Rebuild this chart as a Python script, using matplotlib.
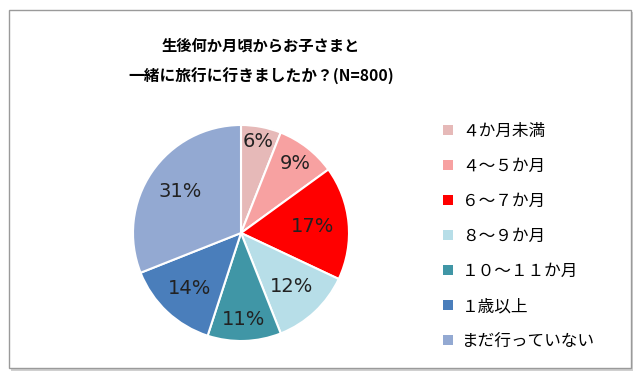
import matplotlib
matplotlib.use("Agg")
import matplotlib.pyplot as plt
from matplotlib.patches import Patch, Rectangle
import numpy as np

plt.rcParams['font.family'] = ['Noto Sans CJK JP', 'DejaVu Sans']

categories = ["４か月未満", "４～５か月", "６～７か月", "８～９か月", "１０～１１か月", "１歳以上", "まだ行っていない"]
values = [6, 9, 17, 12, 11, 14, 31]
colors = ["#E6B9B8", "#F7A1A1", "#FF0000", "#B7DEE8", "#4096A6", "#4A7EBB", "#93A9D2"]
label_dist = [0.86, 0.82, 0.67, 0.68, 0.8, 0.7, 0.68]

W, H = 640, 378
fig = plt.figure(figsize=(W/100, H/100), dpi=100)
fig.patch.set_facecolor("white")

# frame with shadow
shadow = Rectangle((11/W, 1 - 371/H), 622/W, 359/H, transform=fig.transFigure,
                   facecolor="#d0d0d0", edgecolor="none", zorder=-3)
frame = Rectangle((9/W, 1 - 368/H), 622/W, 358/H, transform=fig.transFigure,
                  facecolor="white", edgecolor="#9a9a9a", linewidth=1.0, zorder=-2)
fig.patches.extend([shadow, frame])

cx, cy, r = 241, 233, 108
ax = fig.add_axes([(cx - r)/W, (H - cy - r)/H, 2*r/W, 2*r/H])
ax.set_zorder(2)
ax.patch.set_alpha(0)
wedges, _ = ax.pie(values, colors=colors, startangle=90, counterclock=False,
                   wedgeprops=dict(edgecolor="white", linewidth=1.5), radius=1.0)
ax.set_xlim(-1, 1); ax.set_ylim(-1, 1)
ax.set_aspect("equal")
ax.axis("off")

for w, v, d in zip(wedges, values, label_dist):
    ang = np.deg2rad((w.theta1 + w.theta2) / 2)
    ax.text(d*np.cos(ang), d*np.sin(ang), f"{v}%", ha="center", va="center",
            fontsize=14, color="#222222", family="DejaVu Sans")

fig.text(261/W, 1 - 45/H, "生後何か月頃からお子さまと", ha="center", va="center",
         fontsize=11, fontweight="bold")
fig.text(261/W, 1 - 76/H, "一緒に旅行に行きましたか？(N=800)", ha="center", va="center",
         fontsize=11.3, fontweight="bold")

handles = [Patch(facecolor=c, edgecolor="none") for c in colors]
fig.legend(handles, categories, loc="upper left", bbox_to_anchor=(443/W, 1 - 123/H),
           frameon=False, fontsize=12, handlelength=0.6, handleheight=0.6,
           handletextpad=0.55, labelspacing=1.08, borderaxespad=0, borderpad=0)

fig.savefig("out.png", dpi=100)
